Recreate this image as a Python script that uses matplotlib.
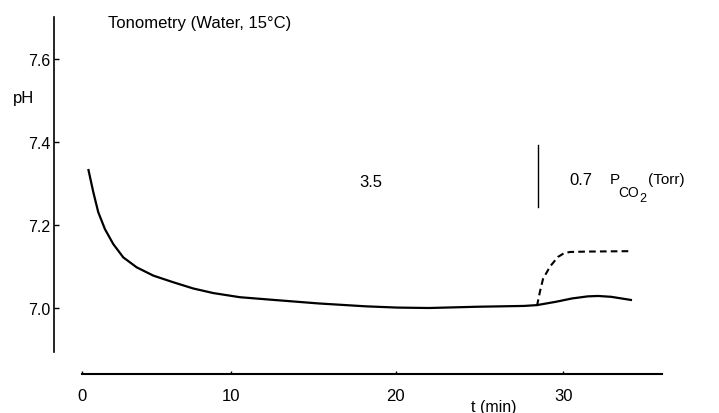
import matplotlib
matplotlib.use("Agg")
import matplotlib.pyplot as plt
import numpy as np

plt.rcParams['font.family'] = ['Liberation Sans', 'DejaVu Sans']

# ---- Data ----
t_solid = [0.44, 0.78, 1.11, 1.56, 2.12, 2.79, 3.69, 4.81, 6.15, 7.49, 8.83, 10.56,
           12.44, 15.32, 18.2, 20.11, 21.99, 24.84, 27.66, 28.43, 29.56, 30.52,
           31.45, 32.07, 32.85, 34.10]
ph_solid = [7.335, 7.279, 7.231, 7.190, 7.154, 7.122, 7.098, 7.078, 7.062, 7.047,
            7.036, 7.026, 7.020, 7.011, 7.004, 7.001, 7.000, 7.003, 7.005, 7.007,
            7.015, 7.023, 7.028, 7.029, 7.027, 7.019]
t_dashed = [28.43, 28.61, 28.79, 29.21, 29.68, 30.04, 30.40, 31.45, 34.10]
ph_dashed = [7.005, 7.04, 7.07, 7.10, 7.123, 7.132, 7.135, 7.136, 7.137]

x_ticks = [0, 10, 20, 30]
x_ticklabels = ["0", "10", "20", "30"]
y_ticks = [7.0, 7.2, 7.4, 7.6]
y_ticklabels = ["7.0", "7.2", "7.4", "7.6"]

# The printed time axis is slightly non-uniform (hand drawn); reproduce it
# with a piecewise-linear function scale.
_knots_t = [-100, 0, 10, 20, 30, 100]
_knots_u = [-1490, 0, 149, 314, 481.6, 1654.8]


def _fwd(t):
    return np.interp(t, _knots_t, _knots_u)


def _inv(u):
    return np.interp(u, _knots_u, _knots_t)


fig = plt.figure(figsize=(7.19, 4.14), dpi=100)
ax = fig.add_axes([0, 0, 1, 1])
ax.set_xscale('function', functions=(_fwd, _inv))
ax.set_xlim(-5.483, 39.29)
ax.set_ylim(6.747, 7.7446)
ax.patch.set_alpha(0)

for s in ['top', 'right']:
    ax.spines[s].set_visible(False)
ax.spines['left'].set_position(('data', -1.86))
ax.spines['left'].set_bounds(6.894, 7.701)
ax.spines['bottom'].set_position(('data', 6.841))
ax.spines['bottom'].set_bounds(0, 35.87)
ax.spines['left'].set_linewidth(1.2)
ax.spines['bottom'].set_linewidth(1.5)

ax.set_xticks(x_ticks)
ax.set_xticklabels(x_ticklabels)
ax.xaxis.set_minor_locator(matplotlib.ticker.NullLocator())
ax.set_yticks(y_ticks)
ax.set_yticklabels(y_ticklabels)
ax.tick_params(axis='y', direction='in', length=3.6, width=1.0, labelsize=11.5, pad=2.5)
ax.tick_params(axis='x', direction='in', length=2.5, width=1.0, labelsize=12, pad=10)

ax.plot(t_solid, ph_solid, color='black', lw=1.6, solid_capstyle='butt')
ax.plot(t_dashed, ph_dashed, color='black', lw=1.5, ls=(0, (3.2, 2)))

ax.plot([28.49, 28.49], [7.243, 7.393], color='black', lw=1.0)

fs = 12
ax.text(1.77, 7.677, "Tonometry (Water, 15°C)", fontsize=fs, va='baseline', ha='left')
ax.text(-4.61, 7.496, "pH", fontsize=fs, va='baseline', ha='left')
ax.text(18.47, 7.294, "3.5", fontsize=fs, va='baseline', ha='center')
ax.text(31.06, 7.299, "0.7", fontsize=fs, va='baseline', ha='center')
ax.text(32.79, 7.301, "P", fontsize=11, va='baseline', ha='left')
ax.text(33.26, 7.270, "CO", fontsize=10, va='baseline', ha='left')
ax.text(34.52, 7.258, "2", fontsize=9, va='baseline', ha='left')
ax.text(35.05, 7.301, "(Torr)", fontsize=11, va='baseline', ha='left')
ax.text(25.84, 6.781, "t (min)", fontsize=11.5, va='top', ha='center')

fig.savefig("out.png", dpi=100)
